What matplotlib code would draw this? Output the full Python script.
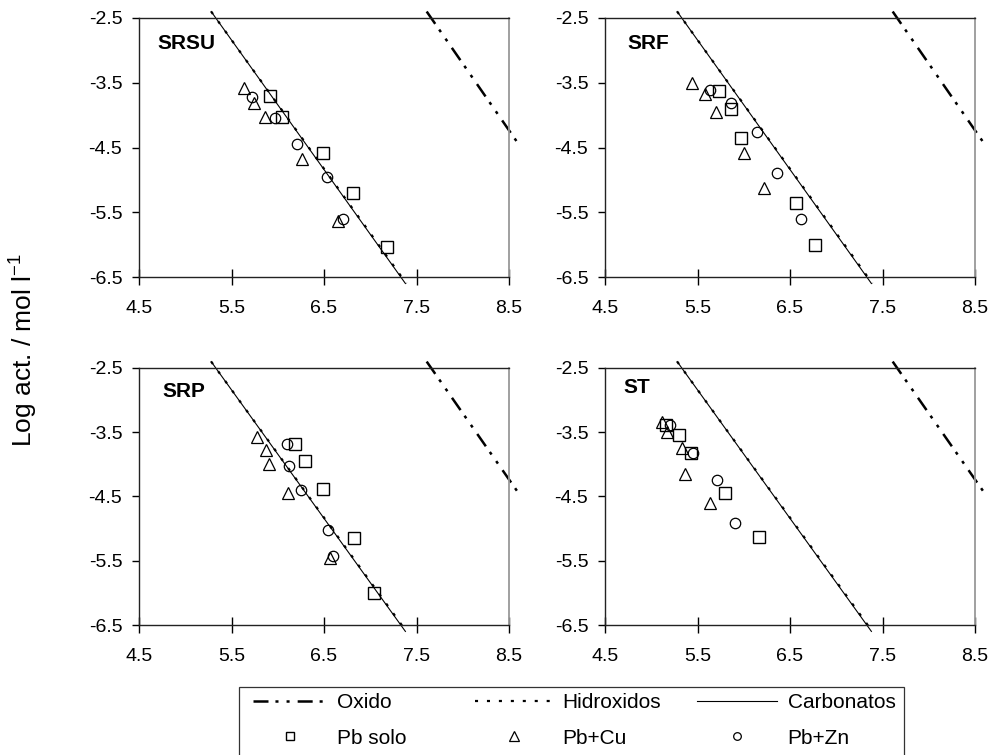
import matplotlib
matplotlib.use("Agg")
import matplotlib.pyplot as plt
from matplotlib.lines import Line2D
from matplotlib.patches import Rectangle

plt.rcParams['font.family'] = ['Liberation Sans', 'DejaVu Sans']
plt.rcParams['mathtext.default'] = 'regular'
plt.rcParams['axes.unicode_minus'] = False
plt.rcParams['lines.scale_dashes'] = False

# pH (x) and log activity (y)
srsu_solo_x = [5.92, 6.05, 6.49, 6.81, 7.18]
srsu_solo_y = [-3.71, -4.03, -4.58, -5.20, -6.04]
srsu_cu_x = [5.63, 5.74, 5.86, 6.26, 6.65]
srsu_cu_y = [-3.58, -3.82, -4.03, -4.67, -5.63]
srsu_zn_x = [5.72, 5.97, 6.21, 6.53, 6.71]
srsu_zn_y = [-3.72, -4.05, -4.45, -4.96, -5.60]

srf_solo_x = [5.73, 5.86, 5.97, 6.57, 6.77]
srf_solo_y = [-3.62, -3.90, -4.35, -5.36, -6.01]
srf_cu_x = [5.44, 5.58, 5.70, 6.00, 6.22]
srf_cu_y = [-3.51, -3.68, -3.95, -4.59, -5.12]
srf_zn_x = [5.64, 5.86, 6.14, 6.36, 6.62]
srf_zn_y = [-3.61, -3.82, -4.26, -4.89, -5.61]

srp_solo_x = [6.19, 6.29, 6.49, 6.82, 7.04]
srp_solo_y = [-3.68, -3.94, -4.38, -5.14, -6.00]
srp_cu_x = [5.78, 5.87, 5.90, 6.11, 6.56]
srp_cu_y = [-3.58, -3.77, -4.00, -4.45, -5.45]
srp_zn_x = [6.10, 6.12, 6.25, 6.54, 6.60]
srp_zn_y = [-3.68, -4.02, -4.40, -5.02, -5.42]

st_solo_x = [5.16, 5.30, 5.43, 5.80, 6.17]
st_solo_y = [-3.39, -3.55, -3.83, -4.45, -5.13]
st_cu_x = [5.12, 5.17, 5.33, 5.37, 5.64]
st_cu_y = [-3.34, -3.49, -3.74, -4.15, -4.60]
st_zn_x = [5.20, 5.45, 5.71, 5.91]
st_zn_y = [-3.39, -3.83, -4.24, -4.91]

# equilibrium lines (end points)
oxido_x = [7.61, 8.59]
oxido_y = [-2.40, -4.42]
hidro_x = [5.28, 7.39]
hidro_y = [-2.40, -6.60]
carb_x = [5.28, 7.38]
carb_y = [-2.40, -6.60]

ticks_x = [4.5, 5.5, 6.5, 7.5, 8.5]
ticks_y = [-6.5, -5.5, -4.5, -3.5, -2.5]

panels = [
    ('SRSU', (srsu_solo_x, srsu_solo_y), (srsu_cu_x, srsu_cu_y), (srsu_zn_x, srsu_zn_y)),
    ('SRF', (srf_solo_x, srf_solo_y), (srf_cu_x, srf_cu_y), (srf_zn_x, srf_zn_y)),
    ('SRP', (srp_solo_x, srp_solo_y), (srp_cu_x, srp_cu_y), (srp_zn_x, srp_zn_y)),
    ('ST', (st_solo_x, st_solo_y), (st_cu_x, st_cu_y), (st_zn_x, st_zn_y)),
]

W, H = 1001, 755
boxes = [(139, 18, 370, 259), (605, 18, 370, 259),
         (139, 368, 370, 257), (605, 368, 370, 257)]
label_pos = [(0.051, 0.903), (0.060, 0.903), (0.062, 0.910), (0.049, 0.926)]

ox_dash = (0, (10.8, 5, 2.2, 5.8, 2.2, 5.8))
hid_dash = (0, (2.2, 6.4))

fig = plt.figure(figsize=(W / 100, H / 100), dpi=100)

for (name, solo, cu, zn), (px, py, pw, ph), (lx, ly) in zip(panels, boxes, label_pos):
    ax = fig.add_axes([px / W, 1 - (py + ph) / H, pw / W, ph / H])
    ax.set_xlim(4.5, 8.5)
    ax.set_ylim(-6.5, -2.5)

    ax.plot(oxido_x, oxido_y, color='black', lw=1.8, linestyle=ox_dash, clip_on=False)
    ax.plot(hidro_x, hidro_y, color='black', lw=1.6, linestyle=hid_dash, clip_on=False)
    ax.plot(carb_x, carb_y, color='black', lw=0.8, clip_on=False)

    ax.plot(*solo, 's', ms=8.5, mfc='none', mec='black', mew=1.0)
    ax.plot(*cu, '^', ms=9, mfc='none', mec='black', mew=0.9)
    ax.plot(*zn, 'o', ms=7.5, mfc='none', mec='black', mew=0.9)

    ax.text(lx, ly, name, transform=ax.transAxes, fontsize=15,
            fontweight='bold', va='center', ha='left')

    ax.set_xticks(ticks_x)
    ax.set_yticks(ticks_y)
    ax.set_xticklabels([f'{v:.1f}' for v in ticks_x])
    ax.set_yticklabels([f'{v:.1f}' for v in ticks_y])
    ax.tick_params(axis='x', direction='inout', length=11, width=1, pad=11, labelsize=14)
    ax.tick_params(axis='y', direction='out', length=5, width=1, pad=7, labelsize=14)

    for side in ['left', 'bottom', 'top']:
        ax.spines[side].set_color('#222222')
        ax.spines[side].set_linewidth(1.0)
    ax.spines['right'].set_color('#999999')
    ax.spines['right'].set_linewidth(1.3)

fig.text(24 / W, 1 - 350 / H, 'Log act. / mol l$^{-1}$', rotation=90,
         fontsize=19, va='center', ha='center')

# legend: three columns placed by hand inside one frame
h_ox = Line2D([], [], color='black', lw=1.8, linestyle=ox_dash)
h_hid = Line2D([], [], color='black', lw=1.6, linestyle=hid_dash)
h_carb = Line2D([], [], color='black', lw=0.8)
h_solo = Line2D([], [], ls='none', marker='s', ms=6, mfc='none', mec='black', mew=1.0)
h_cu = Line2D([], [], ls='none', marker='^', ms=6.5, mfc='none', mec='black', mew=0.9)
h_zn = Line2D([], [], ls='none', marker='o', ms=5.5, mfc='none', mec='black', mew=0.9)

columns = [([h_ox, h_solo], ['Oxido', 'Pb solo'], 253, 3.55),
           ([h_hid, h_cu], ['Hidroxidos', 'Pb+Cu'], 475, 3.7),
           ([h_carb, h_zn], ['Carbonatos', 'Pb+Zn'], 697, 3.85)]
for handles, labels, x0, hl in columns:
    fig.legend(handles, labels, loc='upper left', bbox_to_anchor=(x0 / W, 1 - 693 / H),
               frameon=False, borderpad=0, borderaxespad=0, handlelength=hl,
               handletextpad=0.5, labelspacing=0.8, fontsize=15)

fig.patches.append(Rectangle((239 / W, 1 - 775 / H), 665 / W, 88 / H,
                             transform=fig.transFigure, fill=False,
                             edgecolor='#333333', lw=0.9, clip_on=False))

fig.savefig('out.png', dpi=100)
